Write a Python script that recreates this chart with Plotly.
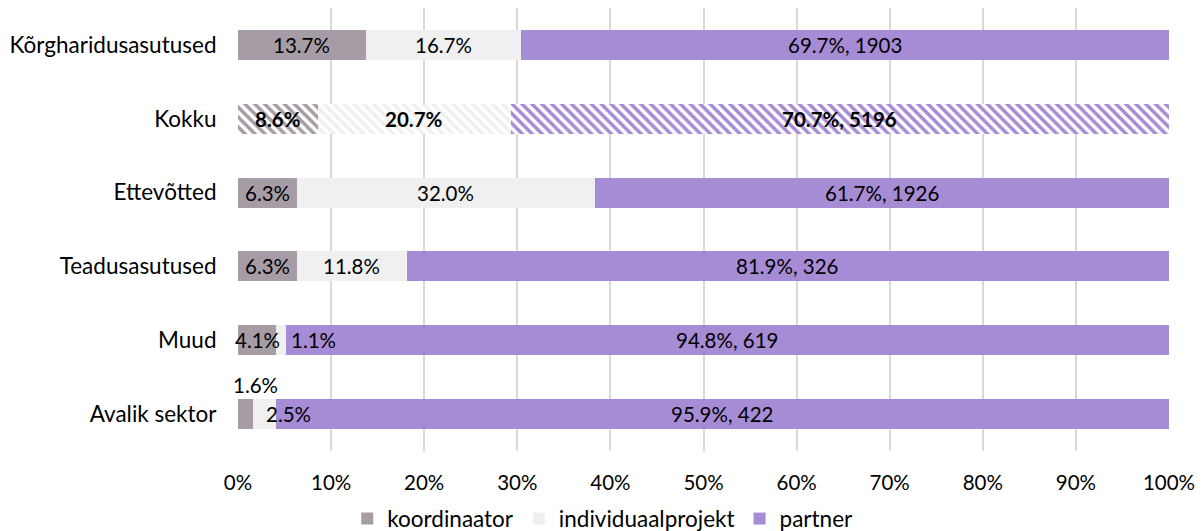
import plotly.graph_objects as go

categories = ["Kõrgharidusasutused", "Kokku", "Ettevõtted", "Teadusasutused", "Muud", "Avalik sektor"]
koordinaator = [13.7, 8.6, 6.3, 6.3, 4.1, 1.6]
individuaal = [16.7, 20.7, 32.0, 11.8, 1.1, 2.5]
partner = [69.7, 70.7, 61.7, 81.9, 94.8, 95.9]
partner_count = [1903, 5196, 1926, 326, 619, 422]
series_names = ["koordinaator", "individuaalprojekt", "partner"]
colors = ["#A69CA5", "#F0F0F0", "#A68BD5"]
x_ticks = [0, 10, 20, 30, 40, 50, 60, 70, 80, 90, 100]
x_tick_labels = [f"{t}%" for t in x_ticks]

FONT = "Lato"
AX_SIZE = 22.5
LBL_SIZE = 20.5
total_cat = "Kokku"

fig = go.Figure()
series = [koordinaator, individuaal, partner]

# normal categories
for name, vals, col in zip(series_names, series, colors):
    ys, xs = [], []
    for c, v in zip(categories, vals):
        if c != total_cat:
            ys.append(c); xs.append(v)
    fig.add_trace(go.Bar(y=ys, x=xs, name=name, orientation="h",
                         marker=dict(color=col, line=dict(width=0)),
                         hoverinfo="skip", legendgroup=name))
# total category with hatch
i_tot = categories.index(total_cat)
for name, vals, col in zip(series_names, series, colors):
    fig.add_trace(go.Bar(y=[total_cat], x=[vals[i_tot]], name=name, orientation="h",
                         marker=dict(color=col, line=dict(width=0),
                                     pattern=dict(shape="\\", fgcolor=col, bgcolor="white",
                                                  size=7, solidity=0.5, fillmode="replace",
                                                  fgopacity=1)),
                         showlegend=False, hoverinfo="skip", legendgroup=name))

# labels
annotations = []
special = {("Muud", 1): (32, 0), ("Avalik sektor", 1): (24, 0), ("Avalik sektor", 0): (10, 29)}
for i, c in enumerate(categories):
    start = 0
    bold = c == total_cat
    for s, vals in enumerate(series):
        v = vals[i]
        center = start + v / 2
        start += v
        txt = f"{v:.1f}%"
        if s == 2:
            txt = f"{v:.1f}%, {partner_count[i]}"
        if bold:
            txt = f"<b>{txt}</b>"
        xs_, ys_ = special.get((c, s), (0, 0))
        annotations.append(dict(x=center, y=c, text=txt, showarrow=False,
                                xshift=xs_, yshift=ys_,
                                font=dict(family=FONT, size=LBL_SIZE, color="#000000")))

fig.update_layout(
    barmode="stack",
    bargap=0.595,
    width=1204, height=531,
    margin=dict(l=230, r=43, t=0, b=88, autoexpand=False),
    plot_bgcolor="white", paper_bgcolor="white",
    font=dict(family=FONT, size=AX_SIZE, color="#000000"),
    annotations=annotations,
    legend=dict(orientation="h", x=0.494, xanchor="center", xref="container",
                y=0.0377, yanchor="middle", yref="container",
                font=dict(family=FONT, size=AX_SIZE), traceorder="normal"),
    xaxis=dict(range=[0, 100], tickvals=x_ticks, ticktext=x_tick_labels,
               showgrid=True, gridcolor="#D9D9D9", gridwidth=2, zeroline=False,
               ticks="outside", ticklen=13, tickcolor="rgba(0,0,0,0)",
               tickfont=dict(family=FONT, size=LBL_SIZE), fixedrange=True, automargin=False),
    yaxis=dict(categoryorder="array", categoryarray=categories[::-1],
               ticks="outside", ticklen=16, tickcolor="rgba(0,0,0,0)", automargin=False,
               showgrid=False, tickfont=dict(family=FONT, size=AX_SIZE)),
)

fig.write_html("out.html")
